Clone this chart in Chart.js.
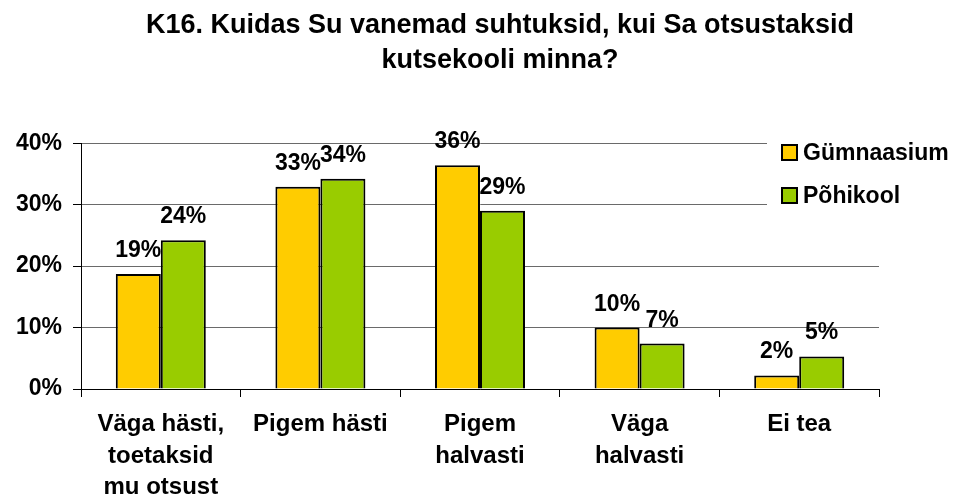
<!DOCTYPE html>
<html lang="et">
<head>
    <meta charset="UTF-8">
    <title>K16</title>
    <script src="https://cdn.jsdelivr.net/npm/chart.js"></script>
    <style>
        body { margin: 0; background: #fff; }
        canvas { display: block; }
    </style>
</head>
<body>
    <canvas id="k16Chart" width="953" height="503"></canvas>

    <script>
        // Data (percent)
        const categories = [
            ['Väga hästi,', 'toetaksid', 'mu otsust'],
            'Pigem hästi',
            ['Pigem', 'halvasti'],
            ['Väga', 'halvasti'],
            'Ei tea'
        ];
        const gymnaasium = [18.7, 32.9, 36.4, 10.0, 2.2];
        const pohikool = [24.2, 34.2, 29.0, 7.4, 5.3];
        const yTicks = [0, 10, 20, 30, 40];
        const seriesNames = ['Gümnaasium', 'Põhikool'];
        const titleLines = ['K16. Kuidas Su vanemad suhtuksid, kui Sa otsustaksid', 'kutsekooli minna?'];

        const FONT = '"Liberation Sans", Arial, sans-serif';

        // labels above bars
        const valueLabels = {
            id: 'valueLabels',
            afterDatasetsDraw(chart) {
                const ctx = chart.ctx;
                ctx.save();
                ctx.font = 'bold 23px ' + FONT;
                ctx.fillStyle = '#000';
                ctx.textAlign = 'center';
                ctx.textBaseline = 'alphabetic';
                chart.data.datasets.forEach((ds, i) => {
                    chart.getDatasetMeta(i).data.forEach((bar, j) => {
                        ctx.fillText(Math.round(ds.data[j]) + '%', bar.x, bar.y - 17);
                    });
                });
                ctx.restore();
            }
        };

        // legend box sitting over the top right of the plot
        const boxLegend = {
            id: 'boxLegend',
            afterDraw(chart) {
                const ctx = chart.ctx;
                ctx.save();
                ctx.fillStyle = '#fff';
                ctx.fillRect(767, 130, 186, 82);
                ctx.font = 'bold 23px ' + FONT;
                ctx.textBaseline = 'middle';
                ctx.textAlign = 'left';
                chart.data.datasets.forEach((ds, i) => {
                    const cy = 153 + i * 43;
                    ctx.fillStyle = ds.backgroundColor;
                    ctx.fillRect(782, cy - 8, 15, 15);
                    ctx.strokeStyle = '#000';
                    ctx.lineWidth = 2;
                    ctx.strokeRect(782, cy - 8, 15, 15);
                    ctx.fillStyle = '#000';
                    ctx.fillText(ds.label, 803, cy + 1);
                });
                ctx.restore();
            }
        };

        // title is centred a bit right of the plot in the original
        const titleShift = {
            id: 'titleShift',
            afterLayout(chart) {
                if (chart.titleBlock) chart.titleBlock.left += 121;
            }
        };

        const ctx = document.getElementById('k16Chart').getContext('2d');
        new Chart(ctx, {
            type: 'bar',
            data: {
                labels: categories,
                datasets: [
                    { label: seriesNames[0], data: gymnaasium, backgroundColor: '#FFCC00', borderColor: '#000', borderWidth: 2 },
                    { label: seriesNames[1], data: pohikool, backgroundColor: '#99CC00', borderColor: '#000', borderWidth: 2 }
                ]
            },
            options: {
                responsive: false,
                animation: false,
                layout: { padding: { left: 0, right: 74, top: 0, bottom: 0 } },
                datasets: { bar: { categoryPercentage: 0.564, barPercentage: 1.0 } },
                plugins: {
                    legend: { display: false },
                    tooltip: { enabled: false },
                    title: {
                        display: true,
                        text: titleLines,
                        color: '#000',
                        font: { family: FONT, size: 27, weight: 'bold', lineHeight: 1.3 },
                        padding: { top: 8, bottom: 65 }
                    }
                },
                scales: {
                    x: {
                        grid: { drawOnChartArea: false, drawTicks: true, tickLength: 8, color: '#000', offset: true },
                        border: { color: '#000', width: 1 },
                        ticks: {
                            color: '#000',
                            padding: 11,
                            maxRotation: 0,
                            autoSkip: false,
                            font: { family: FONT, size: 24, weight: 'bold', lineHeight: 1.33 }
                        },
                        afterFit(scale) { scale.height = 114; }
                    },
                    y: {
                        min: 0,
                        max: 40,
                        afterBuildTicks(scale) { scale.ticks = yTicks.map(v => ({ value: v })); },
                        grid: { color: '#6a6a6a', tickColor: '#000', tickLength: 8 },
                        border: { color: '#000', width: 1 },
                        ticks: {
                            color: '#000',
                            padding: 11,
                            font: { family: FONT, size: 23, weight: 'bold' },
                            callback: v => v + '%'
                        },
                        afterFit(scale) { scale.width = 81; }
                    }
                }
            },
            plugins: [valueLabels, boxLegend, titleShift]
        });
    </script>
</body>
</html>
